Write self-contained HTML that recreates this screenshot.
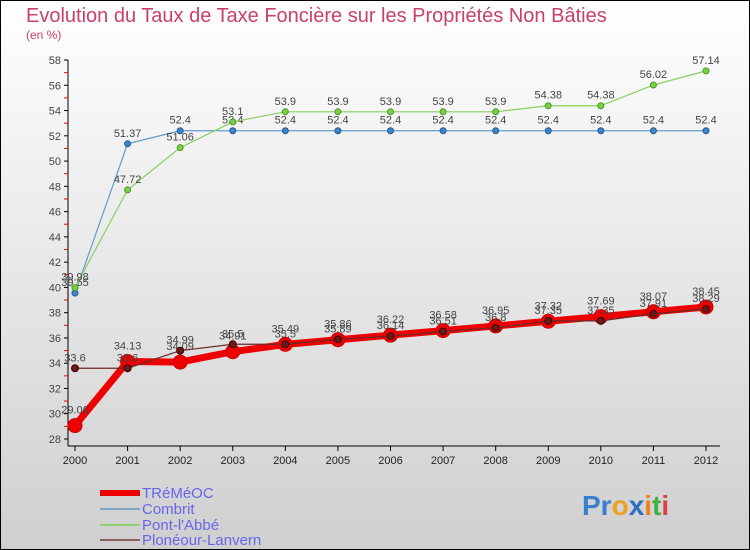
<!DOCTYPE html>
<html><head><meta charset="utf-8"><style>
body{margin:0}
svg{display:block;font-family:"Liberation Sans",sans-serif}
</style></head><body>
<svg width="750" height="550" viewBox="0 0 750 550">
<defs><linearGradient id="bg" x1="0" y1="0" x2="0" y2="1"><stop offset="0" stop-color="#ffffff"/><stop offset="1" stop-color="#cfcfcf"/></linearGradient></defs>
<rect x="0.5" y="0.5" width="749" height="549" fill="url(#bg)" stroke="#000"/>
<text x="26" y="22" font-size="20" fill="#c8406e">Evolution du Taux de Taxe Foncière sur les Propriétés Non Bâties</text>
<text x="26" y="39" font-size="12" fill="#c8406e">(en %)</text>
<g id="axes"></g>
<g id="series"></g>
<g id="legend">
<line x1="100" y1="493" x2="140" y2="493" stroke="#e00" stroke-width="6"/>
<text x="142" y="498" font-size="15" fill="#66e">TRéMéOC</text>
<line x1="100" y1="509" x2="140" y2="509" stroke="#7fa8c8" stroke-width="2"/>
<text x="142" y="514" font-size="15" fill="#66e">Combrit</text>
<line x1="100" y1="525" x2="140" y2="525" stroke="#90d070" stroke-width="2"/>
<text x="142" y="530" font-size="15" fill="#66e">Pont-l'Abbé</text>
<line x1="100" y1="540" x2="140" y2="540" stroke="#8a6060" stroke-width="2"/>
<text x="142" y="545" font-size="15" fill="#66e">Plonéour-Lanvern</text>
</g>
<text x="582" y="515" font-size="28" font-weight="bold"><tspan fill="#3a7fd0">Pr</tspan><tspan fill="#f0a020">o</tspan><tspan fill="#2a70c0">x</tspan><tspan fill="#f08020">i</tspan><tspan fill="#40b040">t</tspan><tspan fill="#e04040">i</tspan></text>
</svg>
<script>
const years=[2000,2001,2002,2003,2004,2005,2006,2007,2008,2009,2010,2011,2012];
const yTicks=[28,30,32,34,36,38,40,42,44,46,48,50,52,54,56,58];
const tremeoc=[29.06,34.13,34.09,34.91,35.49,35.86,36.22,36.58,36.95,37.32,37.69,38.07,38.45];
const combrit=[39.55,51.37,52.4,52.4,52.4,52.4,52.4,52.4,52.4,52.4,52.4,52.4,52.4];
const pontlabbe=[39.98,47.72,51.06,53.1,53.9,53.9,53.9,53.9,53.9,54.38,54.38,56.02,57.14];
const ploneour=[33.6,33.6,34.99,35.5,35.5,35.89,36.14,36.51,36.8,37.35,37.35,37.91,38.29];
const NS='http://www.w3.org/2000/svg';
const X=i=>75+i*(706-75)/12;
const Y=v=>439-(v-28)*(439-60)/30;
function mk(tag,attrs,parent){const e=document.createElementNS(NS,tag);for(const k in attrs)e.setAttribute(k,attrs[k]);parent.appendChild(e);return e;}
const ax=document.getElementById('axes');
let a=mk('line',{x1:68,y1:60,x2:68,y2:446,stroke:'#000'},ax);


a=mk('line',{x1:68,y1:446,x2:720,y2:446,stroke:'#000'},ax);


yTicks.forEach(v=>{
  mk('line',{x1:64,y1:Y(v),x2:68,y2:Y(v),stroke:'#000'},ax);
  if(v<58)mk('line',{x1:64,y1:Y(v+1),x2:68,y2:Y(v+1),stroke:'#e00'},ax);
  const t=mk('text',{x:61,y:Y(v)+4,'font-size':11,fill:'#444','text-anchor':'end'},ax);
  t.textContent=v;
  
  
});
years.forEach((y,i)=>{
  mk('line',{x1:X(i),y1:446,x2:X(i),y2:451,stroke:'#000'},ax);
  const t=mk('text',{x:X(i),y:464,'font-size':11,fill:'#222','text-anchor':'middle'},ax);
  t.textContent=y;
  
  
});
const sg=document.getElementById('series');
function series(data,name,color,w,r,dot,dotStroke,labelDy){
  const g=mk('g',{},sg);
  
  
  const p=mk('polyline',{points:data.map((v,i)=>X(i)+','+Y(v)).join(' '),fill:'none',stroke:color,'stroke-width':w,'stroke-linejoin':'round'},g);
  
  
  data.forEach((v,i)=>{
    const c=mk('circle',{cx:X(i),cy:Y(v),r:r,fill:dot,stroke:dotStroke,'stroke-width':1},g);
    
    
    const t=mk('text',{x:X(i),y:Y(v)+labelDy,'font-size':11,fill:'#444','text-anchor':'middle'},g);
    t.textContent=String(v);
    
    
  });
}
series(combrit,'combrit','#5f9ccc',1.2,3,'#3a86cc','#2a5a8a',-7);
series(pontlabbe,'pont-l-abbe','#88d060',1.2,3,'#7ad040','#4a9a30',-7);
series(tremeoc,'tremeoc','#ee0000',7,7,'#ee0000','#c00',-12);
series(ploneour,'ploneour-lanvern','#6a2a2a',1.2,3.5,'#6a1a1a','#400',-7);
</script>
</body></html>
